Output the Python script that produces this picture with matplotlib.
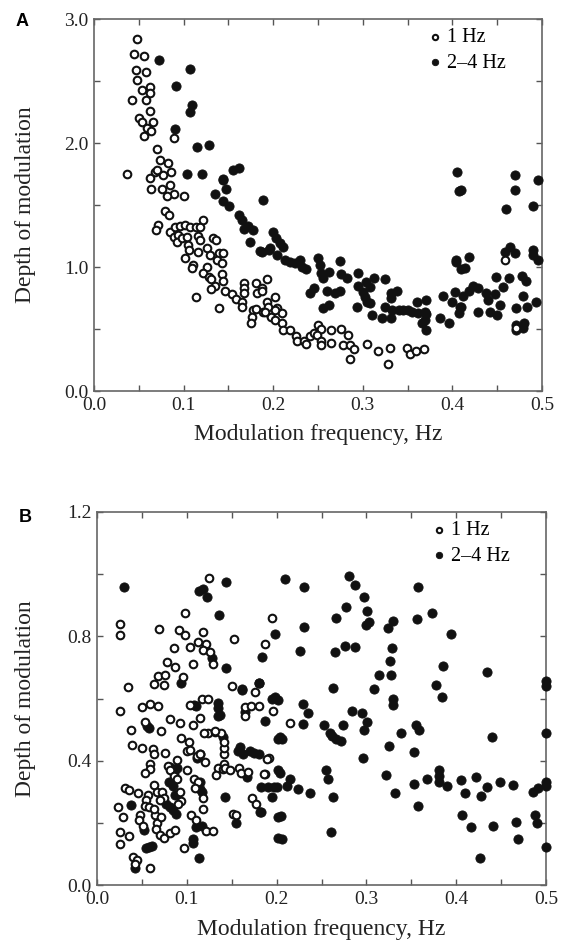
import numpy as np
import matplotlib.pyplot as plt
from matplotlib.ticker import MultipleLocator

# ---- panel A: 1 Hz (open circles) ----
a_open_x = [0.048, 0.045, 0.056, 0.047, 0.058, 0.048, 0.063, 0.054, 0.063, 0.058, 0.042, 0.063,
            0.050, 0.054, 0.066, 0.059, 0.064, 0.056, 0.089, 0.070, 0.037, 0.074, 0.083, 0.068,
            0.077, 0.086, 0.063, 0.064, 0.076, 0.085, 0.089, 0.100, 0.082, 0.070, 0.079, 0.084,
            0.071, 0.069, 0.085, 0.090, 0.096, 0.102, 0.107, 0.114, 0.118, 0.122, 0.089, 0.094,
            0.093, 0.098, 0.104, 0.105, 0.106, 0.116, 0.118, 0.133, 0.136, 0.102, 0.111, 0.109,
            0.116, 0.126, 0.129, 0.139, 0.144, 0.137, 0.143, 0.126, 0.122, 0.128, 0.131, 0.143,
            0.144, 0.135, 0.131, 0.146, 0.114, 0.140, 0.154, 0.159, 0.165, 0.165, 0.167, 0.167,
            0.167, 0.181, 0.182, 0.187, 0.193, 0.202, 0.193, 0.178, 0.181, 0.176, 0.175, 0.189,
            0.195, 0.198, 0.204, 0.210, 0.202, 0.210, 0.211, 0.187, 0.194, 0.191, 0.202, 0.219,
            0.225, 0.227, 0.234, 0.237, 0.241, 0.245, 0.250, 0.253, 0.249, 0.253, 0.253, 0.265,
            0.265, 0.276, 0.283, 0.278, 0.286, 0.290, 0.286, 0.305, 0.317, 0.330, 0.328, 0.349,
            0.353, 0.359, 0.368, 0.459, 0.471]
a_open_y = [2.84, 2.72, 2.70, 2.59, 2.57, 2.51, 2.45, 2.43, 2.40, 2.35, 2.35, 2.26,
            2.20, 2.17, 2.17, 2.12, 2.10, 2.06, 2.04, 1.95, 1.75, 1.86, 1.84, 1.77,
            1.74, 1.77, 1.72, 1.63, 1.63, 1.66, 1.59, 1.57, 1.57, 1.78, 1.45, 1.42,
            1.34, 1.30, 1.28, 1.32, 1.33, 1.34, 1.32, 1.32, 1.32, 1.38, 1.24, 1.26,
            1.20, 1.23, 1.24, 1.18, 1.14, 1.25, 1.22, 1.23, 1.22, 1.07, 1.02, 0.99,
            1.12, 1.15, 1.10, 1.11, 1.11, 1.06, 1.03, 1.00, 0.95, 0.92, 0.90, 0.94,
            0.89, 0.85, 0.82, 0.81, 0.76, 0.67, 0.78, 0.74, 0.72, 0.68, 0.87, 0.83,
            0.79, 0.87, 0.79, 0.83, 0.90, 0.76, 0.72, 0.65, 0.66, 0.60, 0.55, 0.64,
            0.63, 0.60, 0.67, 0.63, 0.57, 0.55, 0.49, 0.81, 0.68, 0.64, 0.65, 0.49,
            0.44, 0.40, 0.40, 0.38, 0.44, 0.47, 0.53, 0.50, 0.45, 0.40, 0.37, 0.49,
            0.39, 0.50, 0.45, 0.37, 0.37, 0.34, 0.26, 0.38, 0.32, 0.35, 0.22, 0.35,
            0.30, 0.32, 0.34, 1.06, 0.51]

# ---- panel A: 2-4 Hz (filled circles) ----
a_fill_x = [0.072, 0.107, 0.092, 0.109, 0.107, 0.090, 0.115, 0.128, 0.104, 0.121, 0.155, 0.162,
            0.144, 0.147, 0.135, 0.189, 0.144, 0.144, 0.151, 0.162, 0.165, 0.167, 0.172, 0.177,
            0.174, 0.200, 0.203, 0.208, 0.211, 0.195, 0.204, 0.187, 0.185, 0.196, 0.213, 0.219,
            0.224, 0.230, 0.232, 0.237, 0.250, 0.252, 0.253, 0.256, 0.262, 0.275, 0.276, 0.282,
            0.295, 0.241, 0.245, 0.260, 0.269, 0.275, 0.256, 0.262, 0.295, 0.300, 0.302, 0.305,
            0.304, 0.312, 0.308, 0.293, 0.308, 0.310, 0.325, 0.332, 0.338, 0.332, 0.325, 0.333,
            0.340, 0.345, 0.350, 0.355, 0.321, 0.331, 0.360, 0.371, 0.362, 0.369, 0.366, 0.371,
            0.386, 0.396, 0.390, 0.399, 0.403, 0.408, 0.407, 0.405, 0.407, 0.410, 0.404, 0.404,
            0.418, 0.410, 0.414, 0.412, 0.418, 0.423, 0.429, 0.438, 0.447, 0.457, 0.440, 0.453,
            0.429, 0.442, 0.450, 0.410, 0.470, 0.470, 0.496, 0.460, 0.490, 0.464, 0.470, 0.459,
            0.490, 0.490, 0.496, 0.449, 0.463, 0.478, 0.482, 0.479, 0.483, 0.493, 0.471, 0.471,
            0.471, 0.479, 0.480, 0.369, 0.370]
a_fill_y = [2.67, 2.60, 2.46, 2.31, 2.25, 2.11, 1.97, 1.98, 1.75, 1.75, 1.78, 1.80,
            1.70, 1.63, 1.59, 1.54, 1.71, 1.53, 1.49, 1.42, 1.38, 1.31, 1.33, 1.30,
            1.20, 1.28, 1.23, 1.19, 1.16, 1.14, 1.10, 1.12, 1.13, 1.15, 1.06, 1.04,
            1.03, 1.06, 1.00, 0.98, 1.07, 1.02, 0.95, 0.91, 0.96, 1.05, 0.94, 0.91,
            0.95, 0.79, 0.83, 0.81, 0.79, 0.81, 0.67, 0.69, 0.85, 0.80, 0.76, 0.72,
            0.88, 0.91, 0.84, 0.68, 0.71, 0.61, 0.90, 0.79, 0.81, 0.75, 0.68, 0.65,
            0.65, 0.65, 0.65, 0.64, 0.59, 0.59, 0.72, 0.73, 0.63, 0.64, 0.55, 0.49,
            0.59, 0.55, 0.77, 0.72, 0.80, 0.68, 0.63, 1.77, 1.61, 1.62, 1.06, 1.04,
            1.08, 0.98, 0.99, 0.77, 0.81, 0.85, 0.83, 0.79, 0.78, 0.84, 0.73, 0.69,
            0.64, 0.64, 0.61, 0.68, 1.74, 1.62, 1.70, 1.47, 1.49, 1.16, 1.11, 1.12,
            1.14, 1.10, 1.06, 0.92, 0.91, 0.93, 0.89, 0.77, 0.68, 0.72, 0.67, 0.53,
            0.49, 0.51, 0.55, 0.57, 0.62]

# ---- panel B: 1 Hz (open circles) ----
b_open_x = [0.125, 0.098, 0.026, 0.026, 0.069, 0.091, 0.098, 0.118, 0.153, 0.086, 0.104, 0.113,
            0.121, 0.118, 0.126, 0.129, 0.107, 0.078, 0.087, 0.068, 0.076, 0.096, 0.064, 0.075,
            0.034, 0.195, 0.187, 0.196, 0.215, 0.191, 0.187, 0.026, 0.050, 0.059, 0.068, 0.038,
            0.054, 0.071, 0.081, 0.092, 0.107, 0.115, 0.104, 0.124, 0.131, 0.138, 0.039, 0.050,
            0.062, 0.064, 0.094, 0.102, 0.076, 0.089, 0.100, 0.104, 0.111, 0.115, 0.120, 0.135,
            0.140, 0.141, 0.141, 0.141, 0.141, 0.059, 0.059, 0.054, 0.079, 0.081, 0.086, 0.089,
            0.100, 0.108, 0.113, 0.109, 0.118, 0.118, 0.031, 0.036, 0.046, 0.063, 0.057, 0.055,
            0.053, 0.067, 0.072, 0.075, 0.070, 0.092, 0.093, 0.090, 0.105, 0.110, 0.023, 0.029,
            0.048, 0.047, 0.051, 0.065, 0.067, 0.071, 0.066, 0.058, 0.063, 0.026, 0.036, 0.026,
            0.070, 0.075, 0.081, 0.087, 0.097, 0.040, 0.044, 0.042, 0.059, 0.121, 0.129, 0.165,
            0.172, 0.180, 0.165, 0.189, 0.186, 0.173, 0.177, 0.152, 0.155, 0.117, 0.124, 0.131,
            0.119, 0.158, 0.160, 0.168, 0.143, 0.133, 0.148, 0.176, 0.150]
b_open_y = [0.989, 0.874, 0.839, 0.804, 0.823, 0.820, 0.804, 0.813, 0.790, 0.763, 0.767, 0.783,
            0.775, 0.756, 0.750, 0.710, 0.711, 0.716, 0.702, 0.672, 0.676, 0.670, 0.646, 0.643,
            0.636, 0.860, 0.775, 0.561, 0.522, 0.407, 0.356, 0.561, 0.574, 0.582, 0.576, 0.499,
            0.525, 0.496, 0.533, 0.522, 0.515, 0.536, 0.579, 0.490, 0.492, 0.490, 0.450, 0.440,
            0.437, 0.420, 0.472, 0.461, 0.424, 0.402, 0.430, 0.435, 0.415, 0.420, 0.397, 0.375,
            0.373, 0.390, 0.420, 0.440, 0.460, 0.390, 0.372, 0.360, 0.383, 0.370, 0.350, 0.340,
            0.370, 0.340, 0.330, 0.311, 0.279, 0.246, 0.311, 0.305, 0.295, 0.322, 0.290, 0.272,
            0.255, 0.300, 0.298, 0.280, 0.275, 0.300, 0.270, 0.260, 0.225, 0.210, 0.252, 0.220,
            0.225, 0.210, 0.190, 0.225, 0.200, 0.220, 0.180, 0.250, 0.245, 0.171, 0.158, 0.132,
            0.160, 0.150, 0.168, 0.178, 0.118, 0.091, 0.080, 0.067, 0.054, 0.173, 0.175, 0.573,
            0.575, 0.575, 0.545, 0.404, 0.357, 0.280, 0.260, 0.230, 0.225, 0.600, 0.600, 0.495,
            0.490, 0.376, 0.360, 0.365, 0.375, 0.354, 0.370, 0.620, 0.640]

# ---- panel B: 2-4 Hz (filled circles) ----
b_fill_x = [0.030, 0.114, 0.118, 0.123, 0.144, 0.136, 0.198, 0.184, 0.128, 0.144, 0.180, 0.161,
            0.094, 0.209, 0.230, 0.281, 0.287, 0.297, 0.277, 0.301, 0.303, 0.300, 0.266, 0.231,
            0.226, 0.265, 0.276, 0.287, 0.324, 0.330, 0.329, 0.326, 0.314, 0.327, 0.358, 0.356,
            0.373, 0.394, 0.385, 0.434, 0.378, 0.384, 0.263, 0.308, 0.330, 0.330, 0.229, 0.235,
            0.229, 0.187, 0.204, 0.206, 0.284, 0.295, 0.301, 0.297, 0.253, 0.259, 0.262, 0.266,
            0.272, 0.274, 0.325, 0.339, 0.355, 0.359, 0.353, 0.296, 0.322, 0.332, 0.353, 0.357,
            0.368, 0.381, 0.381, 0.381, 0.390, 0.405, 0.410, 0.422, 0.428, 0.434, 0.449, 0.463,
            0.440, 0.406, 0.416, 0.441, 0.427, 0.467, 0.469, 0.500, 0.500, 0.500, 0.500, 0.500,
            0.491, 0.486, 0.488, 0.490, 0.500, 0.255, 0.257, 0.263, 0.261, 0.237, 0.224, 0.212,
            0.215, 0.204, 0.197, 0.195, 0.183, 0.183, 0.205, 0.206, 0.056, 0.058, 0.081, 0.083,
            0.086, 0.089, 0.080, 0.085, 0.087, 0.077, 0.081, 0.085, 0.088, 0.115, 0.115, 0.117,
            0.111, 0.115, 0.140, 0.137, 0.135, 0.157, 0.159, 0.143, 0.155, 0.038, 0.052, 0.055,
            0.058, 0.061, 0.042, 0.107, 0.107, 0.110, 0.117, 0.114, 0.108, 0.110, 0.135, 0.135,
            0.162, 0.180, 0.165, 0.170, 0.175, 0.180, 0.163, 0.167, 0.190, 0.200, 0.181, 0.195,
            0.198, 0.202, 0.202, 0.202, 0.202, 0.202]
b_fill_y = [0.958, 0.947, 0.952, 0.928, 0.974, 0.868, 0.808, 0.735, 0.729, 0.699, 0.651, 0.630,
            0.649, 0.984, 0.960, 0.995, 0.965, 0.928, 0.895, 0.882, 0.845, 0.835, 0.860, 0.831,
            0.754, 0.750, 0.770, 0.767, 0.826, 0.850, 0.764, 0.722, 0.676, 0.676, 0.960, 0.856,
            0.874, 0.807, 0.705, 0.684, 0.643, 0.606, 0.633, 0.630, 0.600, 0.580, 0.582, 0.554,
            0.518, 0.528, 0.476, 0.470, 0.560, 0.552, 0.525, 0.498, 0.515, 0.490, 0.480, 0.470,
            0.462, 0.515, 0.447, 0.490, 0.515, 0.500, 0.427, 0.407, 0.354, 0.297, 0.325, 0.254,
            0.340, 0.330, 0.350, 0.370, 0.318, 0.338, 0.297, 0.346, 0.286, 0.314, 0.332, 0.322,
            0.477, 0.225, 0.185, 0.190, 0.086, 0.204, 0.148, 0.655, 0.640, 0.488, 0.330, 0.320,
            0.311, 0.300, 0.225, 0.200, 0.123, 0.370, 0.340, 0.284, 0.170, 0.295, 0.308, 0.320,
            0.340, 0.360, 0.316, 0.282, 0.314, 0.236, 0.223, 0.148, 0.512, 0.505, 0.380, 0.370,
            0.360, 0.375, 0.330, 0.320, 0.290, 0.260, 0.250, 0.240, 0.230, 0.330, 0.310, 0.300,
            0.410, 0.420, 0.477, 0.547, 0.585, 0.430, 0.445, 0.284, 0.200, 0.257, 0.177, 0.120,
            0.122, 0.125, 0.054, 0.149, 0.134, 0.186, 0.190, 0.088, 0.580, 0.575, 0.570, 0.545,
            0.627, 0.649, 0.557, 0.430, 0.425, 0.420, 0.420, 0.349, 0.316, 0.316, 0.236, 0.600,
            0.605, 0.595, 0.470, 0.370, 0.220, 0.150]

serif = ['Liberation Serif', 'DejaVu Serif']
plt.rcParams['font.family'] = serif
plt.rcParams['mathtext.fontset'] = 'stix'

fig = plt.figure(figsize=(5.63, 9.49), dpi=100)
axA = fig.add_axes([94 / 563, 1 - 391 / 949, 448 / 563, 372 / 949])
axB = fig.add_axes([97 / 563, 1 - 885 / 949, 449 / 563, 373 / 949])


def draw(ax, ox, oy, fx, fy, ymax, ymaj, ymin, ylab_x):
    ax.scatter(fx, fy, s=44, c='#111111', edgecolors='#111111', linewidths=0.6,
               label='2\u20134 Hz', clip_on=False, zorder=3)
    ax.scatter(ox, oy, s=30, facecolors='white', edgecolors='#111111', linewidths=1.5,
               label='1 Hz', clip_on=False, zorder=4)
    ax.set_xlim(0, 0.5)
    ax.set_ylim(0, ymax)
    ax.xaxis.set_major_locator(MultipleLocator(0.1))
    ax.xaxis.set_minor_locator(MultipleLocator(0.05))
    ax.yaxis.set_major_locator(MultipleLocator(ymaj))
    ax.yaxis.set_minor_locator(MultipleLocator(ymin))
    ax.xaxis.set_major_formatter(plt.FormatStrFormatter('%.1f'))
    ax.yaxis.set_major_formatter(plt.FormatStrFormatter('%.1f'))
    ax.tick_params(which='both', direction='in', top=True, right=True, length=4,
                   width=1, color='#555555', labelsize=14, labelcolor='#222222', pad=4)
    for sp in ax.spines.values():
        sp.set_color('#666666')
        sp.set_linewidth(1.2)
    ax.set_xlabel('Modulation frequency, Hz', fontsize=17, color='#222222')
    ax.set_ylabel('Depth of modulation', fontsize=17, color='#222222')
    ax.xaxis.set_label_coords(0.5, -0.09)
    ax.yaxis.set_label_coords(ylab_x, 0.5)
    h, l = ax.get_legend_handles_labels()
    ax.legend([h[1], h[0]], [l[1], l[0]], loc='upper right', bbox_to_anchor=(0.92, 0.975),
              frameon=False, fontsize=14.5, handletextpad=0.1, borderaxespad=0, borderpad=0,
              labelspacing=0.3, markerscale=0.7, handlelength=1.0)


draw(axA, a_open_x, a_open_y, a_fill_x, a_fill_y, 3.0, 1.0, 0.5, -0.13)
draw(axB, b_open_x, b_open_y, b_fill_x, b_fill_y, 1.2, 0.4, 0.2, -0.135)

fig.text(22 / 563, 1 - 22 / 949, 'A', fontsize=13, fontweight='bold',
         family='Liberation Sans', ha='center', va='center')
fig.text(25 / 563, 1 - 518 / 949, 'B', fontsize=13, fontweight='bold',
         family='Liberation Sans', ha='center', va='center')

fig.savefig('out.png', dpi=100)
